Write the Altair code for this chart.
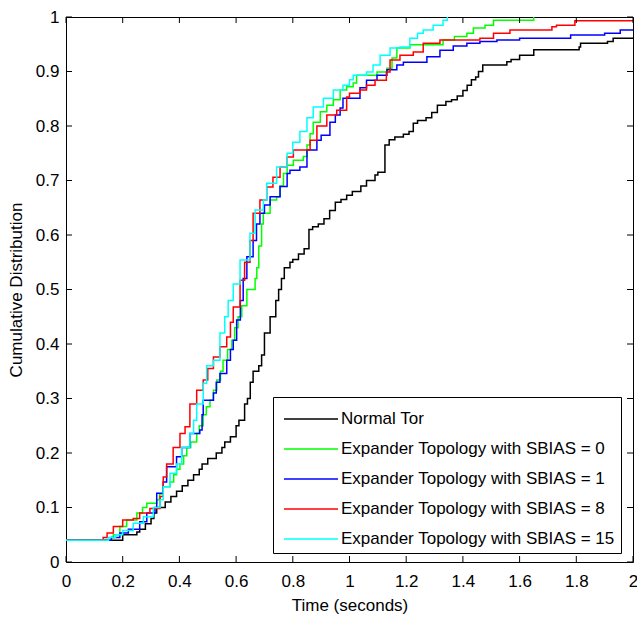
import altair as alt
import pandas as pd

# ---------------- data ----------------
series_names = [
    "Normal Tor",
    "Expander Topology with SBIAS = 0",
    "Expander Topology with SBIAS = 1",
    "Expander Topology with SBIAS = 8",
    "Expander Topology with SBIAS = 15",
]
series_colors = ["#000000", "#00ff00", "#0000ff", "#ff0000", "#00ffff"]

normal_t = [0, 0.20, 0.25, 0.26, 0.28, 0.30, 0.31, 0.32, 0.35, 0.37, 0.39, 0.41, 0.43, 0.45, 0.47,
            0.48, 0.50, 0.53, 0.55, 0.56, 0.58, 0.60, 0.61, 0.63, 0.64, 0.65, 0.66, 0.68, 0.69, 0.70,
            0.72, 0.74, 0.75, 0.76, 0.77, 0.79, 0.80, 0.82, 0.84, 0.857, 0.87, 0.89, 0.91, 0.93, 0.95,
            0.97, 0.99, 1.01, 1.04, 1.06, 1.09, 1.10, 1.125, 1.14, 1.16, 1.19, 1.21, 1.225, 1.24, 1.27,
            1.29, 1.31, 1.34, 1.36, 1.38, 1.40, 1.415, 1.43, 1.445, 1.455, 1.47, 1.555, 1.57, 1.60,
            1.65, 1.81, 1.815, 1.91, 1.93, 2.0]
normal_v = [0.04, 0.05, 0.055, 0.06, 0.07, 0.08, 0.09, 0.10, 0.11, 0.12, 0.13, 0.14, 0.15, 0.16, 0.17,
            0.18, 0.19, 0.20, 0.21, 0.22, 0.23, 0.25, 0.26, 0.29, 0.30, 0.33, 0.35, 0.36, 0.38, 0.42,
            0.45, 0.48, 0.50, 0.52, 0.54, 0.55, 0.555, 0.565, 0.575, 0.61, 0.615, 0.62, 0.63, 0.645, 0.66,
            0.665, 0.673, 0.68, 0.69, 0.70, 0.71, 0.715, 0.765, 0.775, 0.78, 0.785, 0.79, 0.805, 0.81, 0.815,
            0.825, 0.838, 0.845, 0.848, 0.855, 0.865, 0.875, 0.885, 0.89, 0.90, 0.912, 0.918, 0.922, 0.93,
            0.94, 0.945, 0.952, 0.955, 0.961, 0.961]

sb0_t = [0, 0.16, 0.167, 0.19, 0.214, 0.25, 0.27, 0.285, 0.32, 0.33, 0.343, 0.367, 0.38, 0.39, 0.402,
         0.415, 0.426, 0.44, 0.461, 0.47, 0.484, 0.495, 0.508, 0.52, 0.532, 0.545, 0.554, 0.57, 0.585,
         0.595, 0.607, 0.62, 0.638, 0.667, 0.673, 0.68, 0.69, 0.696, 0.72, 0.743, 0.755, 0.767, 0.78,
         0.802, 0.837, 0.85, 0.861, 0.872, 0.897, 0.92, 0.943, 0.967, 0.99, 1.013, 1.025, 1.097, 1.132,
         1.15, 1.167, 1.213, 1.33, 1.37, 1.414, 1.437, 1.478, 1.508, 1.65]
sb0_v = [0.04, 0.045, 0.05, 0.065, 0.077, 0.09, 0.10, 0.108, 0.114, 0.125, 0.138, 0.147, 0.16, 0.17, 0.18,
         0.195, 0.21, 0.22, 0.236, 0.25, 0.27, 0.285, 0.297, 0.315, 0.334, 0.35, 0.37, 0.39, 0.407,
         0.43, 0.45, 0.47, 0.50, 0.52, 0.54, 0.58, 0.62, 0.64, 0.664, 0.67, 0.69, 0.713, 0.728,
         0.737, 0.744, 0.765, 0.786, 0.807, 0.826, 0.838, 0.848, 0.866, 0.872, 0.879, 0.893, 0.899, 0.906,
         0.925, 0.943, 0.949, 0.958, 0.964, 0.97, 0.98, 0.985, 0.994, 1.0]

sb1_t = [0, 0.16, 0.19, 0.22, 0.26, 0.285, 0.314, 0.32, 0.343, 0.355, 0.39, 0.408, 0.437, 0.472, 0.48,
         0.484, 0.52, 0.53, 0.543, 0.567, 0.58, 0.59, 0.602, 0.615, 0.625, 0.638, 0.66, 0.672, 0.684,
         0.70, 0.72, 0.755, 0.78, 0.79, 0.825, 0.85, 0.885, 0.90, 0.931, 0.95, 0.967, 0.977, 1.037,
         1.06, 1.097, 1.132, 1.167, 1.19, 1.273, 1.319, 1.366, 1.414, 1.46, 1.52, 1.60, 1.78, 1.90,
         1.955, 2.0]
sb1_v = [0.04, 0.045, 0.053, 0.06, 0.074, 0.09, 0.10, 0.126, 0.147, 0.175, 0.193, 0.21, 0.236, 0.242, 0.27,
         0.297, 0.31, 0.33, 0.346, 0.37, 0.39, 0.407, 0.444, 0.48, 0.52, 0.56, 0.59, 0.62, 0.64,
         0.655, 0.67, 0.689, 0.713, 0.719, 0.725, 0.756, 0.774, 0.783, 0.807, 0.82, 0.833, 0.851, 0.87,
         0.884, 0.893, 0.903, 0.912, 0.917, 0.927, 0.939, 0.947, 0.952, 0.955, 0.958, 0.961, 0.967, 0.97,
         0.976, 0.976]

sb8_t = [0, 0.131, 0.145, 0.167, 0.20, 0.237, 0.26, 0.296, 0.332, 0.343, 0.355, 0.378, 0.402, 0.42,
         0.437, 0.461, 0.484, 0.50, 0.52, 0.543, 0.567, 0.58, 0.59, 0.614, 0.63, 0.649, 0.66, 0.684,
         0.708, 0.73, 0.755, 0.78, 0.802, 0.861, 0.885, 0.92, 0.955, 0.99, 1.0, 1.037, 1.06, 1.09, 1.13,
         1.143, 1.178, 1.225, 1.26, 1.319, 1.46, 1.508, 1.566, 1.714, 1.73, 1.795, 2.0]
sb8_v = [0.04, 0.045, 0.053, 0.065, 0.077, 0.08, 0.09, 0.098, 0.12, 0.156, 0.18, 0.21, 0.236, 0.248,
         0.29, 0.315, 0.334, 0.355, 0.376, 0.395, 0.413, 0.44, 0.468, 0.517, 0.55, 0.59, 0.64, 0.664,
         0.688, 0.706, 0.725, 0.743, 0.756, 0.774, 0.80, 0.82, 0.829, 0.853, 0.86, 0.866, 0.875, 0.884, 0.899,
         0.921, 0.93, 0.936, 0.952, 0.958, 0.961, 0.97, 0.976, 0.982, 0.985, 0.993, 0.993]

sb15_t = [0, 0.15, 0.175, 0.20, 0.237, 0.273, 0.308, 0.332, 0.343, 0.367, 0.39, 0.408, 0.437, 0.45,
          0.461, 0.484, 0.496, 0.52, 0.543, 0.56, 0.572, 0.59, 0.614, 0.649, 0.667, 0.696, 0.708, 0.743,
          0.78, 0.80, 0.825, 0.85, 0.872, 0.908, 0.943, 0.977, 1.0, 1.013, 1.06, 1.083, 1.108, 1.143,
          1.178, 1.213, 1.24, 1.26, 1.295, 1.33, 1.345]
sb15_v = [0.04, 0.045, 0.05, 0.058, 0.071, 0.083, 0.10, 0.114, 0.138, 0.163, 0.18, 0.21, 0.236, 0.26,
          0.29, 0.328, 0.36, 0.37, 0.42, 0.45, 0.48, 0.51, 0.554, 0.603, 0.646, 0.664, 0.695, 0.725,
          0.75, 0.77, 0.79, 0.815, 0.835, 0.851, 0.866, 0.875, 0.885, 0.893, 0.899, 0.912, 0.93, 0.943,
          0.945, 0.961, 0.97, 0.976, 0.985, 0.994, 1.0]

x_ticks = [0, 0.2, 0.4, 0.6, 0.8, 1.0, 1.2, 1.4, 1.6, 1.8, 2.0]
y_ticks = [0, 0.1, 0.2, 0.3, 0.4, 0.5, 0.6, 0.7, 0.8, 0.9, 1.0]

# ---------------- table ----------------
all_series = [(normal_t, normal_v), (sb0_t, sb0_v), (sb1_t, sb1_v), (sb8_t, sb8_v), (sb15_t, sb15_v)]
rows = []
for k, (name, (ts, vs)) in enumerate(zip(series_names, all_series)):
    for i, (t, v) in enumerate(zip(ts, vs)):
        rows.append({"series": name, "t": t, "v": v, "idx": i})
df = pd.DataFrame(rows)
xt = pd.DataFrame({"t": x_ticks})
yt = pd.DataFrame({"v": y_ticks})

W, H = 567, 545
FONT = "Liberation Sans"
FS = 17
TICK = 6

xs = alt.Scale(domain=[0, 2], nice=False, zero=False)
ys = alt.Scale(domain=[0, 1], nice=False, zero=False)

x_axis = alt.Axis(title="Time (seconds)", values=x_ticks, format="~g", ticks=False,
                  domain=False, grid=False, labelPadding=11, titlePadding=8,
                  labelFont=FONT, labelFontSize=FS, titleFont=FONT, titleFontSize=FS,
                  titleFontWeight="normal", labelColor="black", titleColor="black",
                  labelFlush=False)
y_axis = alt.Axis(title="Cumulative Distribution", values=y_ticks, format="~g", ticks=False,
                  domain=False, grid=False, labelPadding=7, titlePadding=10,
                  labelFont=FONT, labelFontSize=FS, titleFont=FONT, titleFontSize=FS,
                  titleFontWeight="normal", labelColor="black", titleColor="black",
                  labelFlush=False)

lines = alt.Chart(df).mark_line(interpolate="step-after", strokeWidth=1.5, clip=True).encode(
    x=alt.X("t:Q", scale=xs, axis=x_axis),
    y=alt.Y("v:Q", scale=ys, axis=y_axis),
    color=alt.Color("series:N",
                    scale=alt.Scale(domain=series_names, range=series_colors),
                    legend=alt.Legend(title=None, orient="none", legendX=207, legendY=380,
                                      symbolType="M-1.8,0H1.8", symbolSize=900, symbolStrokeWidth=1.5,
                                      symbolOffset=16, labelOffset=14,
                                      labelFont=FONT, labelFontSize=FS, labelLimit=500,
                                      labelColor="black", rowPadding=6, padding=6,
                                      strokeColor="black", fillColor="white",
                                      cornerRadius=0)),
    order=alt.Order("idx:Q"),
)

tick_x_bottom = alt.Chart(xt).mark_rule(color="black", strokeWidth=1).encode(
    x=alt.X("t:Q", scale=xs, axis=x_axis), y=alt.value(H), y2=alt.value(H - TICK))
tick_x_top = alt.Chart(xt).mark_rule(color="black", strokeWidth=1).encode(
    x=alt.X("t:Q", scale=xs, axis=x_axis), y=alt.value(0), y2=alt.value(TICK))
tick_y_left = alt.Chart(yt).mark_rule(color="black", strokeWidth=1).encode(
    y=alt.Y("v:Q", scale=ys, axis=y_axis), x=alt.value(0), x2=alt.value(TICK))
tick_y_right = alt.Chart(yt).mark_rule(color="black", strokeWidth=1).encode(
    y=alt.Y("v:Q", scale=ys, axis=y_axis), x=alt.value(W), x2=alt.value(W - TICK))

chart = alt.layer(lines, tick_x_bottom, tick_x_top, tick_y_left, tick_y_right).properties(
    width=W, height=H,
    autosize=alt.AutoSizeParams(type="none"),
    padding={"left": 66, "top": 17, "right": 4, "bottom": 59},
    background="white",
).configure_view(stroke="black", strokeWidth=1)

chart.save("out.html", embed_options={"renderer": "svg", "actions": False})
